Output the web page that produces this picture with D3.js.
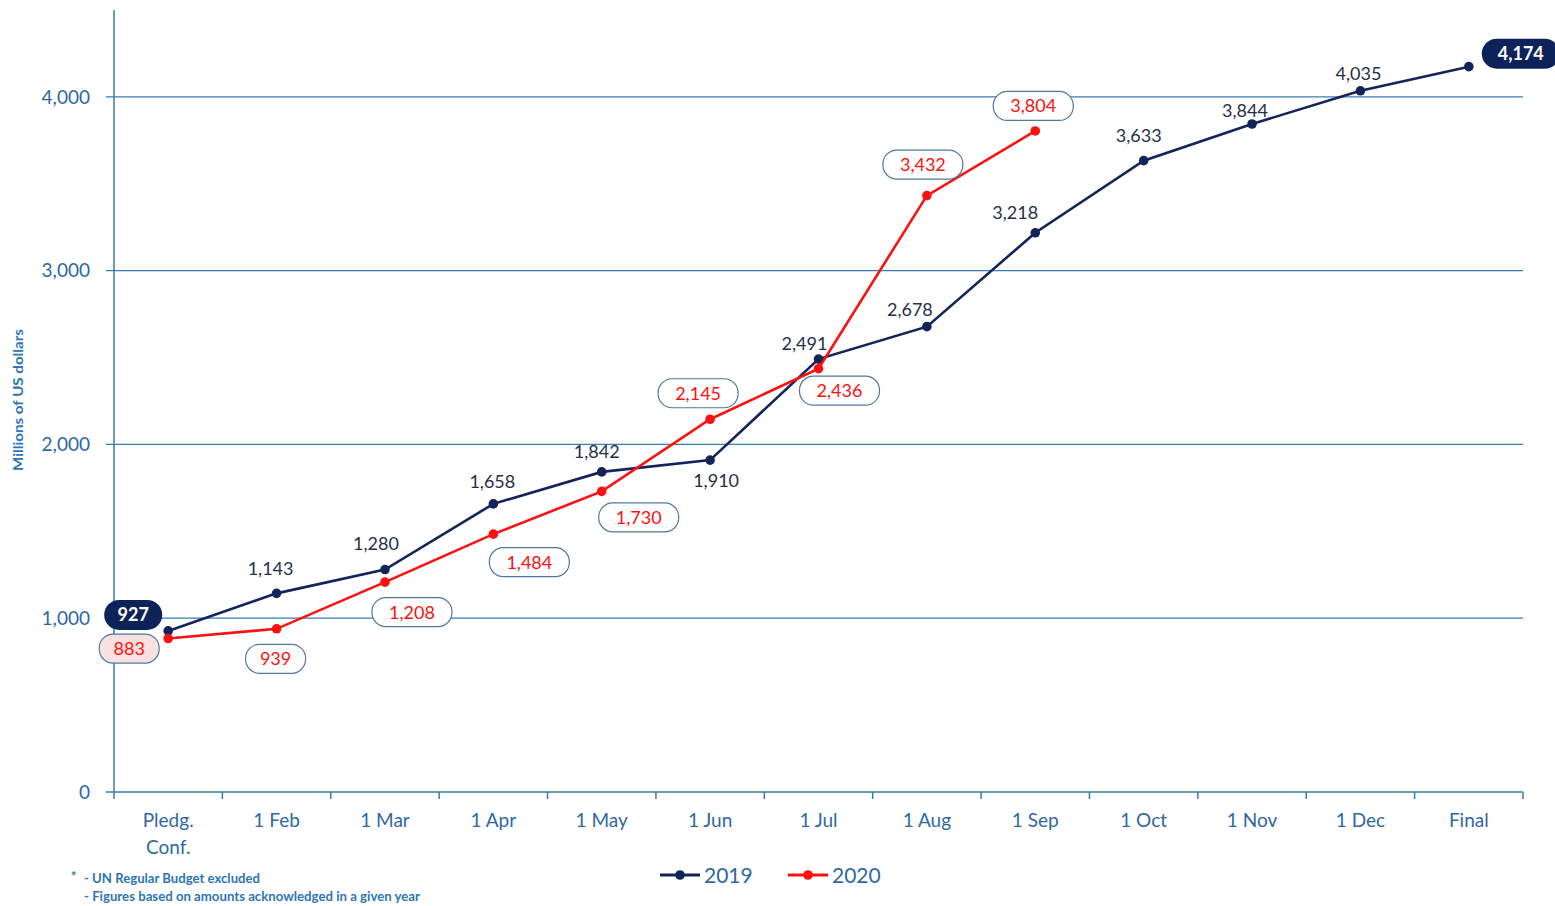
<!DOCTYPE html>
<html><head><meta charset="utf-8">
<script src="https://cdn.jsdelivr.net/npm/d3@7"></script>
<style>body{margin:0;background:#fff}svg{display:block}</style>
</head><body>
<svg id="c" width="1555" height="906"></svg>
<script>
const categories = ["Pledg.\nConf.","1 Feb","1 Mar","1 Apr","1 May","1 Jun","1 Jul","1 Aug","1 Sep","1 Oct","1 Nov","1 Dec","Final"];
const values2019 = [927,1143,1280,1658,1842,1910,2491,2678,3218,3633,3844,4035,4174];
const values2020 = [883,939,1208,1484,1730,2145,2436,3432,3804];
const yTicks = [0,1000,2000,3000,4000];
// label offsets (style) relative to point
const off2019 = [[-35,-16],[-6,-25],[-9,-26],[-1,-22],[-5,-20],[6,20],[-14,-16],[-17,-17],[-20,-20],[-5,-25],[-7,-13],[-2,-17],[52,-13]];
const off2020 = [[-39,10],[-1,30],[27,30],[36,28],[37,26],[-12,-26],[21,22],[-4,-31],[-2,-25]];

const W=1555,H=906, m={l:114,r:32,t:10,b:114};
const svg=d3.select("#c");
const axisC="#3a7cae", txtC="#2f68a3", navy="#13245a", red="#ff1010";
const font="Lato, 'Open Sans', sans-serif";
const x=d3.scaleBand().domain(categories).range([m.l,W-m.r]);
const y=d3.scaleLinear().domain([0,4500]).range([H-m.b,m.t]);
const fmt=d3.format(",");

// grid
svg.append("g").selectAll("line").data(yTicks.filter(d=>d>0)).join("line")
 .attr("x1",m.l-8).attr("x2",W-m.r).attr("y1",d=>y(d)).attr("y2",d=>y(d))
 .attr("stroke",axisC).attr("stroke-width",1.2);
// y axis line
svg.append("line").attr("x1",m.l).attr("x2",m.l).attr("y1",m.t).attr("y2",H-m.b).attr("stroke",axisC).attr("stroke-width",1.5);
// y labels
svg.append("g").selectAll("text").data(yTicks).join("text")
 .attr("x",m.l-24).attr("y",d=>y(d)).attr("dy","0.35em").attr("text-anchor","end")
 .attr("font-family",font).attr("font-size",19).attr("fill",txtC).text(d=>fmt(d));
// x axis
const xa=svg.append("g").attr("transform",`translate(0,${H-m.b})`);
xa.append("line").attr("x1",m.l-8).attr("x2",W-m.r).attr("stroke",axisC).attr("stroke-width",1.5);
const bounds=categories.map(c=>x(c)).concat([W-m.r]);
xa.selectAll("line.t").data(bounds).join("line").attr("class","t")
 .attr("x1",d=>d).attr("x2",d=>d).attr("y1",0).attr("y2",7).attr("stroke",axisC).attr("stroke-width",1.5);
xa.selectAll("text").data(categories).join("text")
 .attr("x",d=>x(d)+x.bandwidth()/2).attr("y",35).attr("text-anchor","middle")
 .attr("font-family",font).attr("font-size",19).attr("fill",txtC)
 .each(function(d){const t=d3.select(this);d.split("\n").forEach((s,i)=>t.append("tspan").attr("x",x(d)+x.bandwidth()/2).attr("dy",i?"1.4em":0).text(s));});

// y title
svg.append("text").attr("transform","translate(23,400) rotate(-90)").attr("text-anchor","middle")
 .attr("font-family",font).attr("font-weight","bold").attr("font-size",13).attr("fill","#2e75b6")
 .attr("textLength",142).attr("lengthAdjust","spacingAndGlyphs").text("Millions of US dollars");

const px=i=>x(categories[i])+x.bandwidth()/2;
const line=d3.line().x((d,i)=>px(i)).y(d=>y(d));
function series(vals,col){
 svg.append("path").datum(vals).attr("d",line).attr("fill","none").attr("stroke",col).attr("stroke-width",2.6);
 svg.append("g").selectAll("circle").data(vals).join("circle").attr("cx",(d,i)=>px(i)).attr("cy",d=>y(d)).attr("r",4.8).attr("fill",col);
}
series(values2019,navy);
series(values2020,red);

// 2020 labels in boxes
const g20=svg.append("g");
values2020.forEach((v,i)=>{
 const cx=px(i)+off2020[i][0], cy=y(v)+off2020[i][1];
 const t=fmt(v), w=t.length*10+30, h=29;
 g20.append("rect").attr("x",cx-w/2).attr("y",cy-h/2).attr("width",w).attr("height",h).attr("rx",14)
  .attr("fill",i===0?"#f7e1e1":"#fff").attr("stroke","#4f77a0").attr("stroke-width",1.2);
 g20.append("text").attr("x",cx).attr("y",cy).attr("dy","0.36em").attr("text-anchor","middle")
  .attr("font-family",font).attr("font-size",18).attr("fill",red).text(t);
});
// 2019 labels
const g19=svg.append("g");
values2019.forEach((v,i)=>{
 const cx=px(i)+off2019[i][0], cy=y(v)+off2019[i][1];
 const t=fmt(v);
 const special = i===0||i===values2019.length-1;
 if(special){
  const w=t.length*10+28,h=30;
  g19.append("rect").attr("x",cx-w/2).attr("y",cy-h/2).attr("width",w).attr("height",h).attr("rx",15).attr("fill","#0c2259");
 }
 g19.append("text").attr("x",cx).attr("y",cy).attr("dy","0.36em").attr("text-anchor","middle")
  .attr("font-family",font).attr("font-size",18).attr("font-weight",special?"bold":"normal")
  .attr("fill",special?"#fff":"#262f48").text(t);
});

// legend
const leg=[{n:"2019",c:navy,x:660},{n:"2020",c:red,x:788}];
leg.forEach(l=>{
 svg.append("line").attr("x1",l.x).attr("x2",l.x+40).attr("y1",875).attr("y2",875).attr("stroke",l.c).attr("stroke-width",3);
 svg.append("circle").attr("cx",l.x+20).attr("cy",875).attr("r",4.8).attr("fill",l.c);
 svg.append("text").attr("x",l.x+44).attr("y",875).attr("dy","0.36em").attr("font-family",font).attr("font-size",21).attr("fill",txtC).text(l.n);
});

// footnote
const fn=svg.append("g").attr("font-family",font).attr("font-weight","bold").attr("font-size",12.5).attr("fill","#2e75b6");
fn.append("text").attr("x",71).attr("y",881).text("*");
fn.append("text").attr("x",84).attr("y",883).attr("textLength",176).attr("lengthAdjust","spacingAndGlyphs").text("- UN Regular Budget excluded");
fn.append("text").attr("x",84).attr("y",901).attr("textLength",336).attr("lengthAdjust","spacingAndGlyphs").text("- Figures based on amounts acknowledged in a given year");
</script>
</body></html>
